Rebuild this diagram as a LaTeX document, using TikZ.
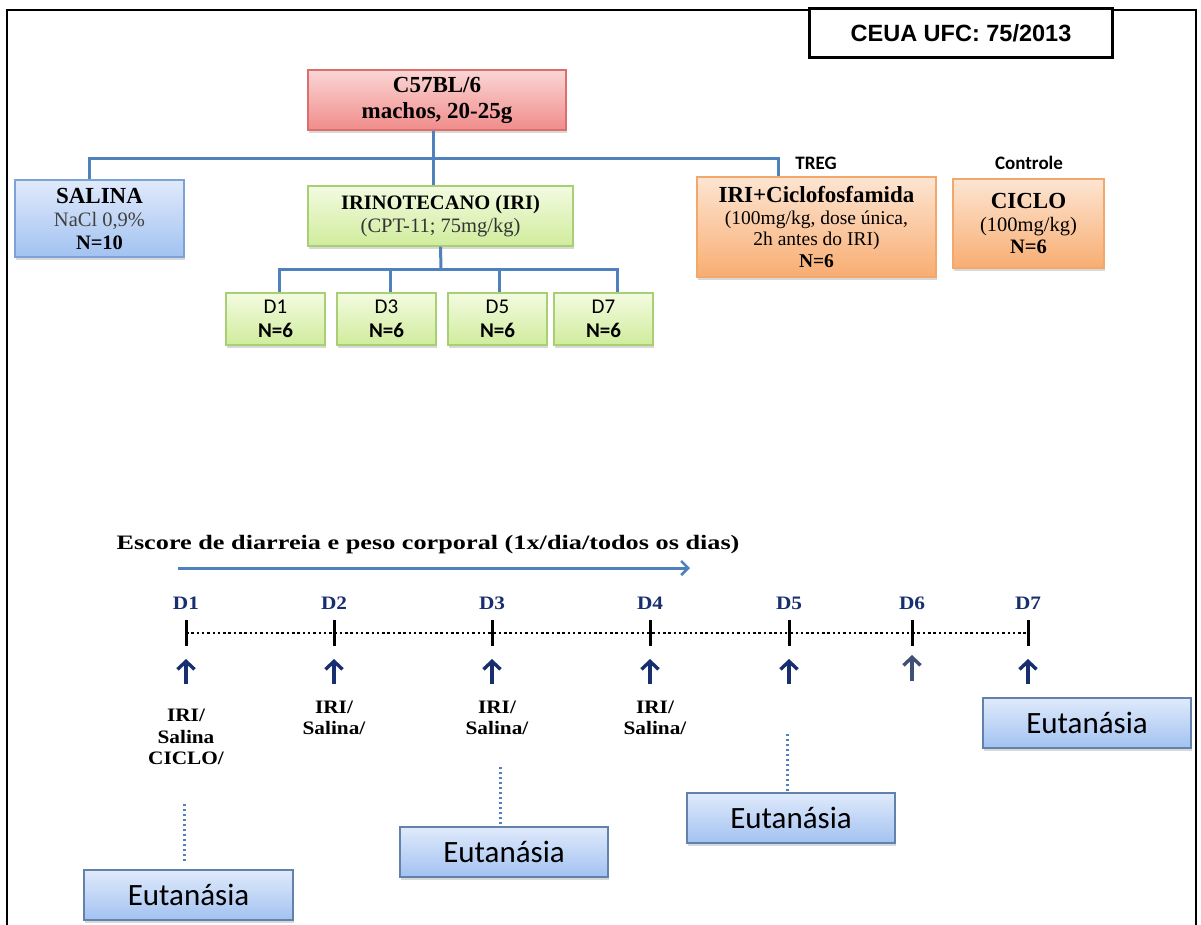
\documentclass[tikz,border=0pt]{standalone}
\usepackage{fontspec}
\setmainfont{Liberation Serif}
\newfontfamily\calib{Carlito}
\newfontfamily\arialf{Liberation Sans}
\newfontfamily\widefont[FakeStretch=1.28]{Liberation Serif}
\newfontfamily\dayfont[FakeStretch=1.12]{Liberation Serif}
\usetikzlibrary{shapes, arrows.meta, positioning, shadows}
\definecolor{linkblue}{HTML}{4F81BD}
\definecolor{navy}{HTML}{172F6E}
\definecolor{pinktop}{HTML}{FAD6D5}
\definecolor{pinkbot}{HTML}{F08C8A}
\definecolor{pinkline}{HTML}{D9706E}
\definecolor{bluetop}{HTML}{E0EAFB}
\definecolor{bluebot}{HTML}{A2C2F1}
\definecolor{blueline}{HTML}{7BA3D6}
\definecolor{greentop}{HTML}{F3FBE1}
\definecolor{greenbot}{HTML}{D0EC9C}
\definecolor{greenline}{HTML}{A9CF74}
\definecolor{orangetop}{HTML}{FDE5D2}
\definecolor{orangebot}{HTML}{F8AD72}
\definecolor{orangeline}{HTML}{F2A86A}
\tikzstyle{box} = [rectangle, inner sep=0pt, align=center, line width=1.3pt, drop shadow={opacity=0.3, shadow xshift=1pt, shadow yshift=-2.5pt}]
\tikzstyle{mousebox} = [box, draw=pinkline, top color=pinktop, bottom color=pinkbot]
\tikzstyle{salbox} = [box, draw=blueline, top color=bluetop, bottom color=bluebot]
\tikzstyle{iribox} = [box, draw=greenline, top color=greentop, bottom color=greenbot]
\tikzstyle{ciclobox} = [box, draw=orangeline, top color=orangetop, bottom color=orangebot]
\tikzstyle{dbox} = [iribox, minimum width=99pt, minimum height=52pt, font=\calib\fontsize{21}{24}\selectfont]
\tikzstyle{eutbox} = [box, draw=blueline!80!black, top color=bluetop, bottom color=bluebot, minimum width=208pt, minimum height=50pt, font=\calib\fontsize{31}{32}\selectfont]
\tikzstyle{link} = [draw=linkblue, line width=3pt]
\tikzstyle{daylab} = [text=navy, font=\dayfont\bfseries\fontsize{19}{20}\selectfont]
\tikzstyle{gives} = [align=center, font=\dayfont\bfseries\fontsize{19}{21.5}\selectfont]
\tikzstyle{uparrow} = [draw=navy, line width=3.6pt, -{Straight Barb[length=8pt,width=17pt,line width=3.4pt]}]
\tikzstyle{dotblue} = [draw=linkblue, line width=3pt, dash pattern=on 2.5pt off 2.5pt]

\begin{document}
\begin{tikzpicture}[x=1pt, y=-1pt]
	\useasboundingbox (0,0) rectangle (1201,924);
	\fill[white] (0,0) rectangle (1201,924);
	\draw[line width=2.6pt] (7,935) |- (1196,10) -- (1196,935);
	% top part
	\node[draw, line width=2.2pt, fill=white, minimum width=303pt, minimum height=49pt, font=\arialf\bfseries\fontsize{23.5}{25}\selectfont] (ceua) at (961,33) {CEUA UFC: 75/2013};
	\node[mousebox, minimum width=258pt, minimum height=60pt, font=\bfseries\fontsize{23}{26}\selectfont] (mice) at (437,100) {C57BL/6\\machos, 20-25g};
	\node[salbox, minimum width=169pt, minimum height=77pt, font=\fontsize{20.5}{23}\selectfont] (salina) at (99.5,218.5) {{\fontsize{23}{23}\selectfont\bfseries SALINA}\\{\color{black!75}NaCl 0,9\%}\\\textbf{N=10}};
	\node[iribox, minimum width=265pt, minimum height=60pt, font=\fontsize{20.5}{23}\selectfont] (iri) at (440.5,216) {\textbf{IRINOTECANO (IRI)}\\{\color{black!80}(CPT-11; 75mg/kg)}};
	\node[ciclobox, minimum width=239pt, minimum height=100pt, font=\fontsize{19.5}{21.5}\selectfont] (iric) at (816.5,227) {{\fontsize{23}{24}\selectfont\bfseries IRI+Ciclofosfamida}\\(100mg/kg, dose única,\\2h antes do IRI)\\\textbf{N=6}};
	\node[ciclobox, minimum width=151pt, minimum height=89pt, font=\fontsize{20.5}{22.5}\selectfont] (ciclo) at (1028.5,223.5) {{\fontsize{23}{24}\selectfont\bfseries CICLO}\\(100mg/kg)\\\textbf{N=6}};
	\node[font=\calib\bfseries\fontsize{19}{20}\selectfont] (treg) at (816,163) {TREG};
	\node[font=\calib\bfseries\fontsize{19}{20}\selectfont] (ctrl) at (1029,163) {Controle};
	\node[dbox] (d1) at (275.5,319) {D1\\\textbf{N=6}};
	\node[dbox] (d3) at (386.5,319) {D3\\\textbf{N=6}};
	\node[dbox] (d5) at (497.5,319) {D5\\\textbf{N=6}};
	\node[dbox] (d7) at (603.5,319) {D7\\\textbf{N=6}};
	\coordinate (bus) at (433,158);
	\coordinate (dbus) at (441,269);
	\draw[link] (bus |- mice.south) -- (bus);
	\draw[link] ([xshift=-10pt]salina.north) |- (bus) -| ([xshift=-38pt]iric.north);
	\draw[link] (bus) -- (bus |- iri.north);
	\draw[link] (iri.south) -- (dbus);
	\draw[link] ([xshift=4pt]d1.north) |- (dbus) -| ([xshift=14pt]d7.north);
	\draw[link] ([xshift=4pt]d3.north) -- ([xshift=4pt]d3.north |- dbus);
	\draw[link] ([xshift=2pt]d5.north) -- ([xshift=2pt]d5.north |- dbus);
	% timeline
	\node[anchor=west, font=\widefont\bfseries\fontsize{20.5}{22}\selectfont] (score) at (113,545) {Escore de diarreia e peso corporal (1x/dia/todos os dias)};
	\coordinate (sL) at (178,568);
	\coordinate (sR) at (690,568);
	\draw[draw=linkblue, line width=3pt, -{Straight Barb[length=7pt,width=14pt,line width=2.6pt]}] (sL) -- (sR);
	\foreach \n/\x in {1/186,2/334,3/492,4/650,5/789,6/912,7/1028} {
		\coordinate (t\n) at (\x,633);
		\node[daylab] (dl\n) at (\x,603) {D\n};
		\draw[line width=3pt] ([yshift=13pt]t\n) -- ([yshift=-13pt]t\n);
	}
	\draw[line width=2.6pt, dash pattern=on 2.5pt off 2.8pt] (t1) -- (t7);
	\foreach \n in {1,2,3,4,5,7}
		\draw[uparrow] ([yshift=-51pt]t\n) -- ([yshift=-26pt]t\n);
	\draw[uparrow, draw=navy!60!gray] ([yshift=-48pt]t6) -- ([yshift=-22pt]t6);
	\node[gives] (g1) at (186,737) {IRI/\\Salina\\CICLO/};
	\node[gives] (g2) at (334,718) {IRI/\\Salina/};
	\node[gives] (g3) at (497,718) {IRI/\\Salina/};
	\node[gives] (g4) at (655,718) {IRI/\\Salina/};
	\node[eutbox, minimum width=209pt] (eut1) at (188.5,895) {Eutanásia};
	\node[eutbox] (eut3) at (504,852) {Eutanásia};
	\node[eutbox] (eut5) at (791,818) {Eutanásia};
	\node[eutbox] (eut7) at (1087,723) {Eutanásia};
	\draw[dotblue] (eut1.north) ++(-4,-8) -- ++(0,-59);
	\draw[dotblue] (eut3.north) ++(-4,-2) -- ++(0,-58);
	\draw[dotblue] (eut5.north) ++(-4,-1) -- ++(0,-59);
\end{tikzpicture}
\end{document}
